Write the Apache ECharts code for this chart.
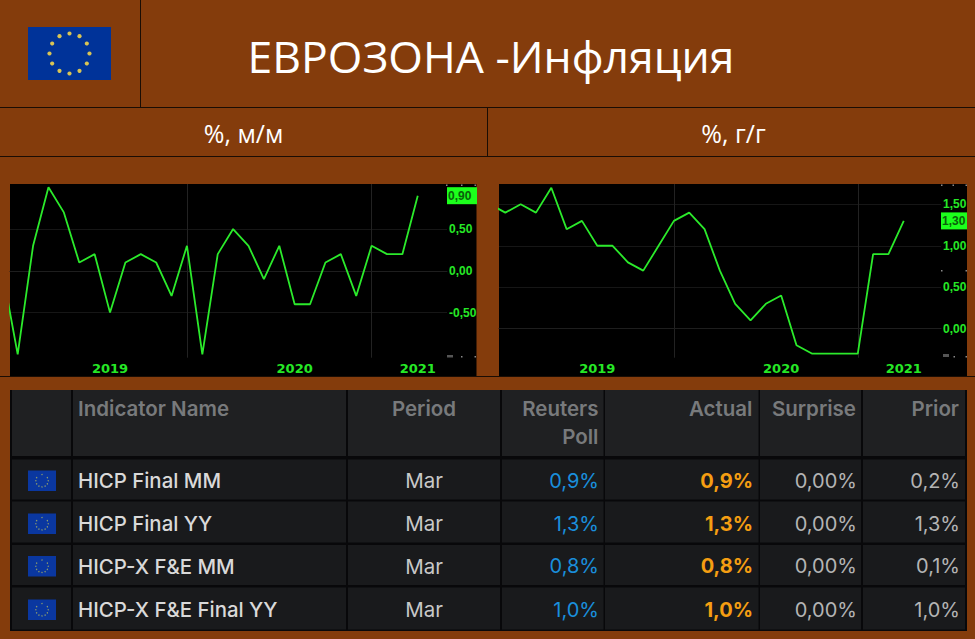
<!DOCTYPE html>
<html><head><meta charset="utf-8">
<style>html,body{margin:0;padding:0;background:#843c0c;overflow:hidden}#c{width:975px;height:639px}</style>
<script src="https://cdn.jsdelivr.net/npm/echarts@6/dist/echarts.min.js"></script>
</head><body><div id="c"></div>
<script>
const months = ['2018-12','2019-01','2019-02','2019-03','2019-04','2019-05','2019-06','2019-07','2019-08','2019-09','2019-10','2019-11','2019-12','2020-01','2020-02','2020-03','2020-04','2020-05','2020-06','2020-07','2020-08','2020-09','2020-10','2020-11','2020-12','2021-01','2021-02','2021-03'];
const mmValues = [0.0,-1.0,0.3,1.0,0.7,0.1,0.2,-0.5,0.1,0.2,0.1,-0.3,0.3,-1.0,0.2,0.5,0.3,-0.1,0.3,-0.4,-0.4,0.1,0.2,-0.3,0.3,0.2,0.2,0.9];
const yyValues = [1.5,1.4,1.5,1.4,1.7,1.2,1.3,1.0,1.0,0.8,0.7,1.0,1.3,1.4,1.2,0.7,0.3,0.1,0.3,0.4,-0.2,-0.3,-0.3,-0.3,-0.3,0.9,0.9,1.3];
const yearLabels = ['2019','2020','2021'];
const yearLabelMonths = ['2019-07','2020-07','2021-03'];
const yearBoundaries = [12.04,24.0];
const mmTicks = [-0.5,0,0.5];
const yyTicks = [0,0.5,1,1.5];
const tableHeader = ['Indicator Name','Period','Reuters\nPoll','Actual','Surprise','Prior'];
const indicators = ['HICP Final MM','HICP Final YY','HICP-X F&E MM','HICP-X F&E Final YY'];
const periods = ['Mar','Mar','Mar','Mar'];
const pollValues = ['0,9%','1,3%','0,8%','1,0%'];
const actualValues = ['0,9%','1,3%','0,8%','1,0%'];
const surpriseValues = ['0,00%','0,00%','0,00%','0,00%'];
const priorValues = ['0,2%','1,3%','0,1%','1,0%'];

const GREEN='#26e826', FONT='"Open Sans"', TF='Inter';
const g=[];
const rect=(x,y,w,h,fill)=>g.push({type:'rect',silent:true,z:-5,shape:{x,y,width:w,height:h},style:{fill}});
const text=(t,x,y,font,fill,align)=>g.push({type:'text',silent:true,z:5,style:{text:t,x,y,font,fill,align:align||'left',verticalAlign:'middle',lineHeight:28}});
function flag(x,y,w,h,bg,R,r,col){
  rect(x,y,w,h,bg);
  for(let i=0;i<12;i++){const a=i*Math.PI/6;
    g.push({type:'circle',silent:true,z:5,shape:{cx:x+w/2+R*Math.sin(a),cy:y+h/2-R*Math.cos(a),r},style:{fill:col}});}
}
rect(0,107,975,1,'#1a0d04');rect(0,156,975,1,'#1a0d04');rect(0,376,975,1,'#1a0d04');
rect(140,0,1,107,'#1a0d04');rect(487,107,1,49,'#1a0d04');
flag(28,27,83,53,'#003399',20,2.1,'#d8c455');
text('ЕВРОЗОНА -Инфляция',491,55,'44.5px '+FONT,'#ffffff','center');
text('%, м/м',243.5,133,'25px '+FONT,'#ffffff','center');
text('%, г/г',733.5,133,'25px '+FONT,'#ffffff','center');
rect(10,184,466.5,192,'#000000');rect(499,184,468,192,'#000000');
// small terminal artefacts on the axis strips
[[446,184.5],[461,184.5],[474.5,184.5],[461,356],[474.5,356],[941,184.5],[952.5,184.5],[965.5,184.5],[941,270],[965.5,270],[953.5,356],[965.5,356]].forEach(p=>{
  g.push({type:'rect',silent:true,z:5,shape:{x:p[0],y:p[1],width:1.5,height:1.5},style:{fill:'#8a8a8a'}});});
[[447,355,6,2.5],[943,354,6,3]].forEach(p=>g.push({type:'rect',silent:true,z:5,shape:{x:p[0],y:p[1],width:p[2],height:p[3]},style:{fill:'#555555'}}));
rect(10,390,957,241,'#08080a');
const cols=[[12,59],[73,273],[348,152],[502,101.5],[605,153.5],[760,101],[863,102]];
const rows=[[459.5,40],[501.5,41],[545,40],[587.5,42]];
cols.forEach(c=>{rect(c[0],390,c[1],66,'#1f2022');rows.forEach(r=>rect(c[0],r[0],c[1],r[1],'#191a1c'));});
const HF='600 20.5px '+TF, HC='#787a7c';
text(tableHeader[0],78,408,HF,HC);
text(tableHeader[1],424,408,HF,HC,'center');
text(tableHeader[2],598.5,422,HF,HC,'right');
text(tableHeader[3],752.5,408,HF,HC,'right');
text(tableHeader[4],856,408,HF,HC,'right');
text(tableHeader[5],959,408,HF,HC,'right');
const rowY=[480.5,523.5,566,609.5];
const RF='20px '+TF;
indicators.forEach((n,i)=>{const y=rowY[i];
  flag(28,y-10,28,20.5,'#0a37a0',6.2,0.7,'#8a9a70');
  text(n,78,y,'500 20.4px '+TF,'#d9d9d9');
  text(periods[i],424,y,'20.5px '+TF,'#c8c8c8','center');
  text(pollValues[i],599,y,RF,'#1a8fdc','right');
  text(actualValues[i],753,y,'700 20px '+TF,'#f59e12','right');
  text(surpriseValues[i],857,y,RF,'#b4b4b4','right');
  text(priorValues[i],960,y,RF,'#b4b4b4','right');
});

const grids=[{left:10,top:184,width:437,height:173.7},{left:499,top:184,width:442,height:173.7}];
function xAxis(idx,min,max){return {type:'value',gridIndex:idx,min,max,
  axisLine:{show:true,lineStyle:{color:'#1e1e1e'}},
  axisTick:{show:false,customValues:yearBoundaries},
  splitLine:{show:true,lineStyle:{color:'#222222',width:1}},
  axisLabel:{customValues:yearLabelMonths.map(m=>months.indexOf(m)),
    formatter:v=>yearLabels[yearLabelMonths.indexOf(months[v])],
    color:GREEN,fontFamily:'DejaVu Sans',fontWeight:'bold',fontSize:13,margin:4,hideOverlap:false,showMinLabel:true,showMaxLabel:true}};}
function yAxis(idx,min,max,ticks){return {type:'value',gridIndex:idx,position:'right',min,max,
  axisLine:{show:false},
  axisTick:{show:false,customValues:ticks},
  splitLine:{show:true,lineStyle:{color:'#161616',width:1}},
  axisLabel:{customValues:ticks,formatter:v=>v.toFixed(2).replace('.',','),color:GREEN,fontFamily:'Liberation Sans',fontWeight:'bold',fontSize:12,margin:2,hideOverlap:false}};}
function line(idx,vals,xMax,boxW){const last=vals[vals.length-1];
  return {type:'line',xAxisIndex:idx,yAxisIndex:idx,data:vals.map((v,i)=>[i,v]),symbol:'none',smooth:false,clip:true,animation:false,
    lineStyle:{color:'#2bea2b',width:1.8},
    markPoint:{symbol:'circle',symbolSize:0.01,animation:false,silent:true,
      data:[{coord:[xMax,last],value:last}],
      label:{show:true,position:'right',distance:0,formatter:()=>last.toFixed(2).replace('.',','),
        color:'#0a600a',backgroundColor:'#1cff1c',fontFamily:'Liberation Sans',fontWeight:'bold',fontSize:12,lineHeight:11,padding:[3,1,3,1],width:boxW,align:'left',verticalAlign:'middle'}}};}
const chart=echarts.init(document.getElementById('c'),null,{renderer:'svg',width:975,height:639});
chart.setOption({backgroundColor:'#843c0c',animation:false,
  graphic:{elements:g},grid:grids,
  xAxis:[xAxis(0,0.5,28.9),xAxis(1,0.587,29.43)],
  yAxis:[yAxis(0,-1.04,1.04,mmTicks),yAxis(1,-0.35,1.745,yyTicks)],
  series:[line(0,mmValues,28.9,28),line(1,yyValues,29.43,24)]});
</script></body></html>
